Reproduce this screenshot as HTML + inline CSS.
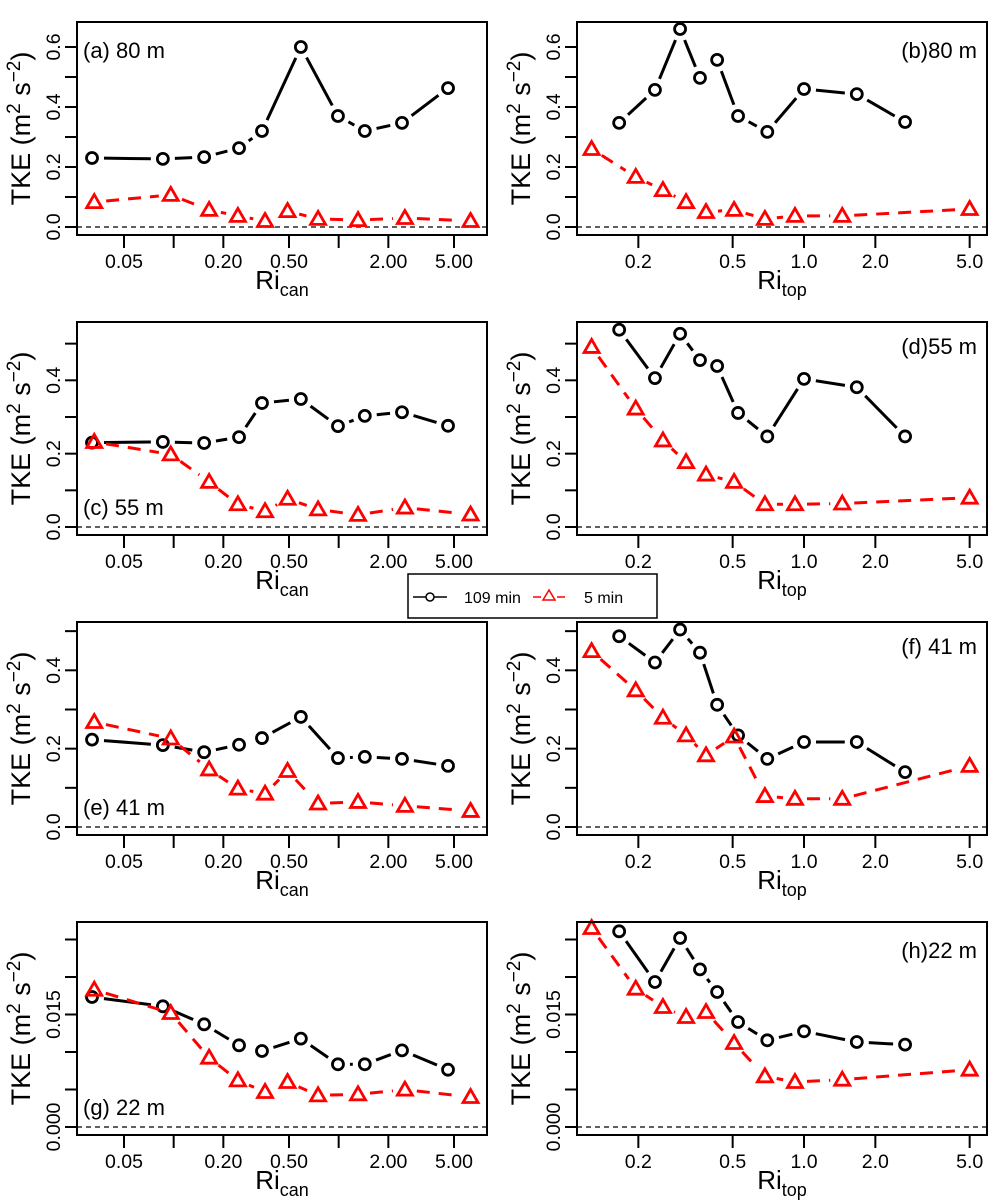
<!DOCTYPE html>
<html><head><meta charset="utf-8"><style>
body{margin:0;background:#fff}
svg{display:block;font-family:"Liberation Sans",Arial,sans-serif}
</style></head><body>
<svg id="fig" width="1000" height="1200" viewBox="0 0 1000 1200" xmlns="http://www.w3.org/2000/svg"></svg>
<script>
// Shared x values (Ri)
const leftCircX = [0.032,0.086,0.153,0.249,0.343,0.59,0.99,1.44,2.42,4.6];
const leftTriX  = [0.033,0.096,0.164,0.245,0.358,0.49,0.75,1.31,2.52,6.3];
const rightCircX = [0.166,0.235,0.30,0.364,0.43,0.527,0.70,1.0,1.67,2.67];
const rightTriX  = [0.127,0.195,0.254,0.318,0.386,0.507,0.684,0.916,1.45,5.0];
// TKE values: 109 min (circles), 5 min (triangles)
const aCirc = [0.23,0.227,0.233,0.263,0.32,0.6,0.37,0.32,0.347,0.463];
const aTri  = [0.083,0.107,0.057,0.037,0.02,0.053,0.027,0.023,0.03,0.02];
const bCirc = [0.347,0.457,0.66,0.497,0.557,0.37,0.317,0.46,0.443,0.35];
const bTri  = [0.26,0.167,0.123,0.083,0.05,0.057,0.027,0.037,0.037,0.06];
const cCirc = [0.23,0.232,0.229,0.245,0.338,0.349,0.275,0.303,0.313,0.276];
const cTri  = [0.232,0.198,0.123,0.062,0.043,0.077,0.048,0.033,0.053,0.034];
const dCirc = [0.538,0.406,0.527,0.455,0.439,0.311,0.247,0.404,0.381,0.247];
const dTri  = [0.491,0.323,0.236,0.177,0.143,0.123,0.062,0.062,0.064,0.08];
const eCirc = [0.223,0.209,0.191,0.21,0.227,0.281,0.176,0.179,0.174,0.156];
const eTri  = [0.268,0.226,0.147,0.098,0.085,0.143,0.06,0.064,0.054,0.041];
const fCirc = [0.487,0.42,0.504,0.445,0.312,0.234,0.174,0.217,0.217,0.14];
const fTri  = [0.449,0.349,0.279,0.234,0.183,0.231,0.079,0.072,0.072,0.156];
const gCirc = [0.01733,0.01609,0.01369,0.01089,0.01013,0.01178,0.00836,0.00836,0.01022,0.00764];
const gTri  = [0.01831,0.0152,0.00924,0.00622,0.00467,0.006,0.00422,0.00436,0.00498,0.004];
const hCirc = [0.02609,0.01933,0.0252,0.02102,0.018,0.014,0.01156,0.01276,0.01133,0.01098];
const hTri  = [0.02653,0.01844,0.016,0.01467,0.01533,0.0112,0.00676,0.006,0.00631,0.00764];
// Tick values / labels
const leftTicks = [0.05,0.1,0.2,0.5,1,2,5];
const leftTickLabels = ["0.05","","0.20","0.50","","2.00","5.00"];
const rightTicks = [0.2,0.5,1,2,5];
const rightTickLabels = ["0.2","0.5","1.0","2.0","5.0"];
const yTicks1 = [0,0.1,0.2,0.3,0.4,0.5,0.6];
const yLabels1 = ["0.0","","0.2","","0.4","","0.6"];
const yTicks2 = [0,0.1,0.2,0.3,0.4,0.5];
const yLabels2 = ["0.0","","0.2","","0.4",""];
const yTicks4 = [0,0.005,0.01,0.015,0.02,0.025];
const yLabels4 = ["0.000","","","0.015","",""];

const NS="http://www.w3.org/2000/svg";
const svg=document.getElementById('fig');
function mk(tag,attrs,parent){const e=document.createElementNS(NS,tag);for(const k in attrs)e.setAttribute(k,attrs[k]);(parent||svg).appendChild(e);return e;}

const panels=[
 {id:'a',col:0,row:0,circ:aCirc,tri:aTri,scale:300,yt:yTicks1,yl:yLabels1,label:'(a) 80 m',pos:'tl'},
 {id:'b',col:1,row:0,circ:bCirc,tri:bTri,scale:300,yt:yTicks1,yl:yLabels1,label:'(b)80 m',pos:'tr'},
 {id:'c',col:0,row:1,circ:cCirc,tri:cTri,scale:366.7,yt:yTicks2,yl:yLabels2,label:'(c) 55 m',pos:'bl'},
 {id:'d',col:1,row:1,circ:dCirc,tri:dTri,scale:366.7,yt:yTicks2,yl:yLabels2,label:'(d)55 m',pos:'tr'},
 {id:'e',col:0,row:2,circ:eCirc,tri:eTri,scale:391.7,yt:yTicks2,yl:yLabels2,label:'(e) 41 m',pos:'bl'},
 {id:'f',col:1,row:2,circ:fCirc,tri:fTri,scale:391.7,yt:yTicks2,yl:yLabels2,label:'(f) 41 m',pos:'tr'},
 {id:'g',col:0,row:3,circ:gCirc,tri:gTri,scale:7500,yt:yTicks4,yl:yLabels4,label:'(g) 22 m',pos:'bl'},
 {id:'h',col:1,row:3,circ:hCirc,tri:hTri,scale:7500,yt:yTicks4,yl:yLabels4,label:'(h)22 m',pos:'tr'}
];
const rowTop=[22,322,622,922];

function series(g,xs,ys,xf,yf,kind){
  const pts=xs.map((v,i)=>[xf(v),yf(ys[i])]);
  const col=kind==='c'?'#000':'#f00';
  const lg=mk('g',{},g);
  
  
  const gap=12;
  for(let i=0;i<pts.length-1;i++){
    const [x1,y1]=pts[i],[x2,y2]=pts[i+1];
    const dx=x2-x1,dy=y2-y1,L=Math.hypot(dx,dy);
    if(L<=2*gap+1)continue;
    const ux=dx/L,uy=dy/L;
    const a={x1:x1+ux*gap,y1:y1+uy*gap,x2:x2-ux*gap,y2:y2-uy*gap,stroke:col,'stroke-width':3};
    if(kind==='t')a['stroke-dasharray']='13 9';
    mk('line',a,lg);
  }
  pts.forEach(([x,y])=>{
    let m;
    if(kind==='c'){m=mk('circle',{cx:x,cy:y,r:5.5,fill:'none',stroke:'#000','stroke-width':2.8},g);
      }
    else{m=mk('polygon',{points:`${x},${y-7.5} ${x-7.5},${y+5.5} ${x+7.5},${y+5.5}`,fill:'none',stroke:'#f00','stroke-width':2.8,'stroke-linejoin':'miter'},g);
      }
    
  });
}

panels.forEach(p=>{
  const L=p.col===0?77:577, R=L+410, T=rowTop[p.row], B=T+213, y0=T+205;
  const g=mk('g',{});
  
  
  const xf=p.col===0?(v=>L+212+165*Math.log10(v/0.5)):(v=>L+227+237*Math.log10(v));
  const yf=v=>y0-v*p.scale;
  const z=mk('line',{x1:L,x2:R,y1:y0,y2:y0,stroke:'#000','stroke-width':1.2,'stroke-dasharray':'5 4'},g);
  
  const cx=p.col===0?leftCircX:rightCircX, tx=p.col===0?leftTriX:rightTriX;
  series(g,cx,p.circ,xf,yf,'c');
  series(g,tx,p.tri,xf,yf,'t');
  const bx=mk('rect',{x:L,y:T,width:410,height:213,fill:'none',stroke:'#000','stroke-width':2},g);
  
  const ticks=p.col===0?leftTicks:rightTicks, tl=p.col===0?leftTickLabels:rightTickLabels;
  const xa=mk('g',{},g);
  ticks.forEach((t,i)=>{
    const x=xf(t);
    mk('line',{x1:x,x2:x,y1:B,y2:B+13,stroke:'#000','stroke-width':2},xa);
    if(tl[i]){const tt=mk('text',{x:x,y:B+33,'font-size':19.5,'text-anchor':'middle'},xa);tt.textContent=tl[i];
      }
  });
  const xt=mk('text',{x:(L+R)/2,y:B+54,'font-size':26,'text-anchor':'middle'},g);
  
  xt.innerHTML='Ri<tspan font-size="18" dy="7">'+(p.col===0?'can':'top')+'</tspan>';
  const ya=mk('g',{},g);
  p.yt.forEach((t,i)=>{
    const y=yf(t);
    mk('line',{x1:L-12,x2:L,y1:y,y2:y,stroke:'#000','stroke-width':2},ya);
    if(p.yl[i]){const tt=mk('text',{x:0,y:0,'font-size':19.5,'text-anchor':'middle',transform:`translate(${L-17},${y}) rotate(-90)`},ya);tt.textContent=p.yl[i];
      }
  });
  const yt=mk('text',{x:0,y:0,'font-size':27,'text-anchor':'middle',transform:`translate(${L-47},${(T+B)/2}) rotate(-90)`},g);
  
  yt.innerHTML='TKE (m<tspan font-size="19" dy="-10">2</tspan><tspan dy="10"> s</tspan><tspan font-size="19" dy="-10">−2</tspan><tspan dy="10">)</tspan>';
  let lx,ly,anc;
  if(p.pos==='tl'){lx=L+6;ly=T+36;anc='start';}
  else if(p.pos==='tr'){lx=R-10;ly=T+32;anc='end';}
  else {lx=L+6;ly=B-20;anc='start';}
  if(p.id==='b'||p.id==='h')ly=T+36;
  const pl=mk('text',{x:lx,y:ly,'font-size':22,'text-anchor':anc},g);
  pl.textContent=p.label;
  
});

const lg=mk('g',{});


mk('rect',{x:408,y:574,width:249,height:44,fill:'#fff',stroke:'#000','stroke-width':1.5},lg);
const e1=mk('g',{},lg);
mk('line',{x1:413,x2:447,y1:597,y2:597,stroke:'#000','stroke-width':1.5},e1);
mk('circle',{cx:430,cy:597,r:4,fill:'#fff',stroke:'#000','stroke-width':1.5},e1);
const t1=mk('text',{x:464,y:603,'font-size':16},e1);t1.textContent='109 min';
const e2=mk('g',{},lg);
mk('line',{x1:533,x2:541,y1:597,y2:597,stroke:'#f00','stroke-width':1.5},e2);
mk('line',{x1:557,x2:565,y1:597,y2:597,stroke:'#f00','stroke-width':1.5},e2);
mk('polygon',{points:'549,590 543,600 555,600',fill:'none',stroke:'#f00','stroke-width':1.5},e2);
const t2=mk('text',{x:584,y:603,'font-size':16},e2);t2.textContent='5 min';
</script>
</body></html>
